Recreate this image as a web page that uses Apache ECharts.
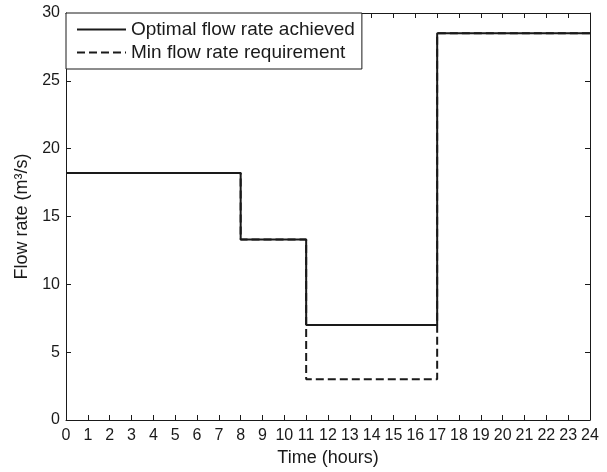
<!DOCTYPE html>
<html>
<head>
<meta charset="utf-8">
<script src="https://cdn.jsdelivr.net/npm/echarts@6/dist/echarts.min.js"></script>
<style>
  html, body { margin: 0; padding: 0; background: #fff; }
  #chart { width: 607px; height: 472px; }
</style>
</head>
<body>
<div id="chart"></div>
<script>
// step change times (hours) and flow rate for each period
const stepTimes = [0, 8, 11, 17, 24]
const achievedFlow = [18.2, 13.3, 7.0, 28.5, 28.5]
const minRequiredFlow = [18.2, 13.3, 3.0, 28.5, 28.5]

const toPairs = (ys) => stepTimes.map((t, i) => [t, ys[i]])

const chart = echarts.init(document.getElementById("chart"))
const font = "Liberation Sans, Arial, Helvetica, sans-serif"
const ink = "#1a1a1a"

const tickStyle = { inside: true, length: 5, lineStyle: { color: ink, width: 1 } }

const option = {
  animation: false,
  backgroundColor: "#fff",
  textStyle: { fontFamily: font, color: ink },
  grid: { left: 66, right: 17, top: 13, bottom: 47, show: false },
  legend: {
    orient: "vertical",
    left: 66,
    top: 13,
    padding: [7, 7, 7, 10],
    itemGap: 4,
    itemWidth: 49,
    itemHeight: 14,
    itemTextGap: 5,
    borderColor: ink,
    borderWidth: 1,
    backgroundColor: "#fff",
    itemStyle: { opacity: 0 },
    textStyle: { fontSize: 19, color: ink, fontFamily: font },
    data: ["Optimal flow rate achieved", "Min flow rate requirement"],
  },
  xAxis: [
    {
      type: "value",
      min: 0,
      max: 24,
      interval: 1,
      name: "Time (hours)",
      nameLocation: "middle",
      nameGap: 29,
      nameTextStyle: { fontSize: 18, color: ink },
      axisLine: { show: true, onZero: false, lineStyle: { color: ink, width: 1 } },
      axisTick: tickStyle,
      axisLabel: { fontSize: 16, color: ink, margin: 8 },
      splitLine: { show: false },
    },
    {
      type: "value",
      position: "top",
      min: 0,
      max: 24,
      interval: 1,
      axisLine: { show: true, onZero: false, lineStyle: { color: ink, width: 1 } },
      axisTick: tickStyle,
      axisLabel: { show: false },
      splitLine: { show: false },
    },
  ],
  yAxis: [
    {
      type: "value",
      min: 0,
      max: 30,
      interval: 5,
      name: "Flow rate (m³/s)",
      nameLocation: "middle",
      nameGap: 32,
      nameTextStyle: { fontSize: 18, color: ink },
      axisLine: { show: true, onZero: false, lineStyle: { color: ink, width: 1 } },
      axisTick: tickStyle,
      axisLabel: { fontSize: 16, color: ink, margin: 6 },
      splitLine: { show: false },
    },
    {
      type: "value",
      position: "right",
      min: 0,
      max: 30,
      interval: 5,
      axisLine: { show: true, onZero: false, lineStyle: { color: ink, width: 1 } },
      axisTick: tickStyle,
      axisLabel: { show: false },
      splitLine: { show: false },
    },
  ],
  series: [
    {
      name: "Min flow rate requirement",
      type: "line",
      step: "end",
      data: toPairs(minRequiredFlow),
      symbol: "none",
      lineStyle: { color: ink, width: 2, type: [8, 4] },
      itemStyle: { color: ink },
      z: 2,
    },
    {
      name: "Optimal flow rate achieved",
      type: "line",
      step: "end",
      data: toPairs(achievedFlow),
      symbol: "none",
      lineStyle: { color: ink, width: 2, type: "solid" },
      itemStyle: { color: ink },
      z: 3,
    },
  ],
}

chart.setOption(option)
</script>
</body>
</html>
